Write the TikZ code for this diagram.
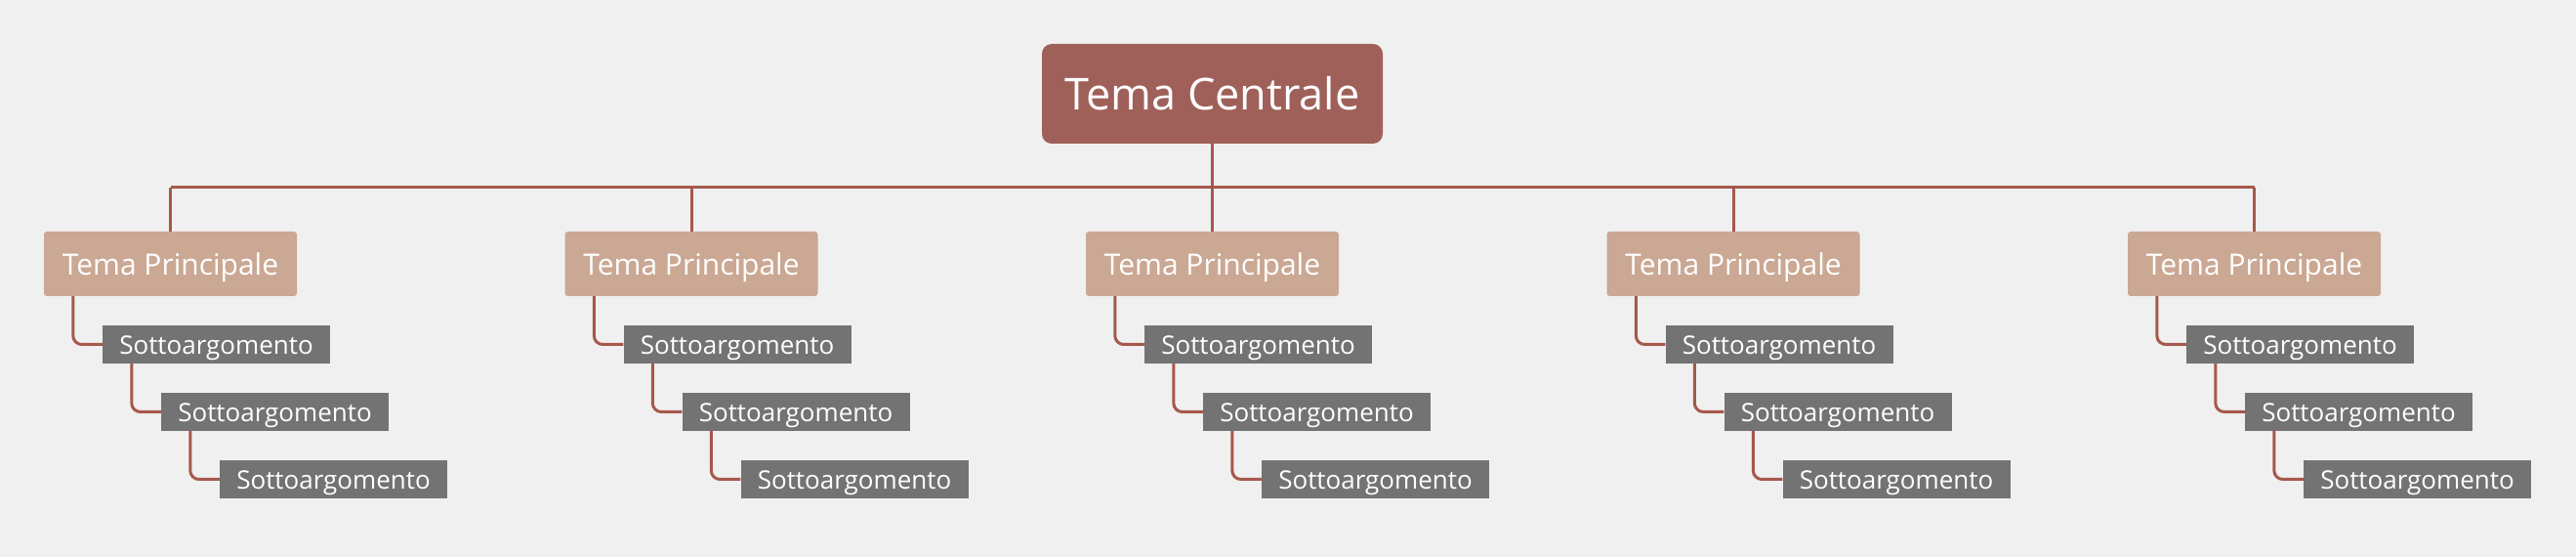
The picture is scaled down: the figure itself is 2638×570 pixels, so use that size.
\documentclass[tikz,border=0pt]{standalone}
\usepackage{fontspec}
\setmainfont{Open Sans}
\definecolor{bg}{RGB}{240,240,240}
\definecolor{centralred}{RGB}{160,96,90}
\definecolor{topicbeige}{RGB}{202,168,148}
\definecolor{subgrey}{RGB}{115,115,115}
\definecolor{linkred}{RGB}{166,88,76}
\tikzset{
  central/.style={fill=centralred, text=white, rounded corners=10pt,
    minimum width=349pt, minimum height=102pt, text height=34pt, text depth=0pt,
    font=\fontsize{45}{54}\selectfont},
  topic/.style={fill=topicbeige, text=white, rounded corners=3pt,
    minimum width=259pt, minimum height=66pt, text height=24pt, text depth=0pt,
    font=\fontsize{30}{36}\selectfont},
  subtopic/.style={fill=subgrey, text=white,
    minimum width=233pt, minimum height=39pt, text height=21pt, text depth=0pt,
    font=\fontsize{26}{31}\selectfont},
  link/.style={draw=linkred, line width=3pt, rounded corners=9pt}
}
\begin{document}
\begin{tikzpicture}[x=1pt,y=1pt]
  \fill[bg] (0,0) rectangle (2638,570);
  \useasboundingbox (0,0) rectangle (2638,570);
  \node[central] (ctr) at (1241.5,474) {Tema Centrale};
  \coordinate (bus) at (1241.5,378);
  \draw[link] (ctr.south) -- (bus);
  \foreach \i/\x in {1/174.5,2/708,3/1241.5,4/1775,5/2308.5} {
    \node[topic] (p\i) at (\x,300) {Tema Principale};
    \node[subtopic] (a\i) at (\x+47,217.5) {Sottoargomento};
    \node[subtopic] (b\i) at (\x+107,148.5) {Sottoargomento};
    \node[subtopic] (c\i) at (\x+167,79.5) {Sottoargomento};
    \draw[link] (p\i.north) -- (p\i.north |- bus);
    \draw[link] ([xshift=30pt]p\i.south west) |- (a\i.west);
    \draw[link] ([xshift=30pt]a\i.south west) |- (b\i.west);
    \draw[link] ([xshift=30pt]b\i.south west) |- (c\i.west);
  }
  \draw[link] (p1.north |- bus) -- (p5.north |- bus);
\end{tikzpicture}
\end{document}
